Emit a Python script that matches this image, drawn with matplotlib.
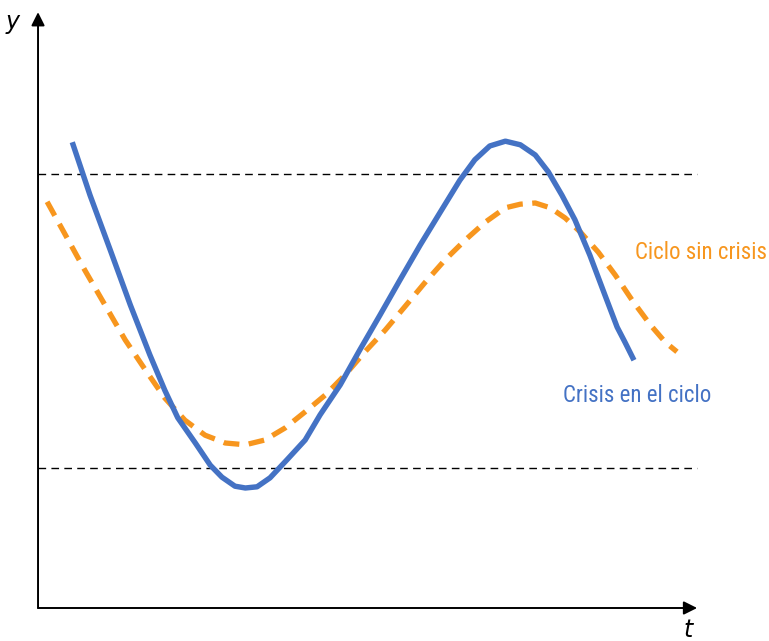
import matplotlib
matplotlib.use("Agg")
import matplotlib.pyplot as plt

# blue curve: crisis within the cycle
t_crisis = [5.4, 8.0, 11.1, 14.2, 17.2, 19.5, 21.5, 24.2, 26.5, 28.3, 30.3, 31.9,
            33.7, 35.7, 38.3, 41.1, 43.4, 46.5, 49.5, 52.6, 55.7, 58.8, 61.9, 64.9,
            67.2, 69.5, 71.9, 74.2, 76.5, 78.5, 80.6, 82.6, 84.9, 87.2, 89.1, 90.3, 91.5]
y_crisis = [77.2, 68.8, 59.7, 50.5, 42.2, 36.3, 31.7, 27.5, 23.8, 21.8, 20.3, 20.0,
            20.2, 21.7, 24.7, 28.0, 32.2, 37.2, 43.0, 48.8, 54.7, 60.5, 66.0, 71.3,
            74.7, 77.0, 77.8, 77.2, 75.5, 72.7, 68.8, 64.7, 58.8, 52.2, 46.8, 44.3, 41.7]

# orange curve: cycle without crisis
t_ciclo = [1.4, 4.2, 7.2, 10.3, 13.4, 16.5, 19.5, 22.6, 25.7, 28.8, 31.9, 34.9,
           38.0, 41.1, 44.2, 47.2, 50.3, 53.4, 56.5, 59.5, 62.6, 65.7, 68.8, 71.9,
           74.2, 76.5, 78.8, 81.1, 83.4, 86.2, 88.8, 91.4, 94.2, 96.5, 98.3]
y_ciclo = [67.7, 62.2, 56.3, 50.5, 44.7, 39.7, 35.0, 31.3, 28.8, 27.5, 27.2, 28.0,
           30.0, 32.7, 35.5, 38.8, 42.7, 46.3, 50.3, 54.2, 58.0, 61.3, 64.3, 66.7,
           67.3, 67.5, 66.7, 65.0, 62.7, 59.3, 55.5, 51.3, 47.2, 44.3, 42.7]

upper = 72.3
lower = 23.3

blue = "#4472C4"
orange = "#F7961E"
lab_font = ["Roboto Condensed", "DejaVu Sans"]

fig = plt.figure(figsize=(7.69, 6.41), dpi=100)
ax = fig.add_axes([0, 0, 1, 1])
ax.set_xlim(-5.85, 112.46)
ax.set_ylim(-5.5, 101.33)
ax.axis("off")

# axes with arrows
ax.annotate("", xy=(101.4, 0), xytext=(0, 0),
            arrowprops=dict(arrowstyle="-|>", lw=1.4, color="black", mutation_scale=20,
                            shrinkA=0, shrinkB=0))
ax.annotate("", xy=(0, 99.3), xytext=(0, 0),
            arrowprops=dict(arrowstyle="-|>", lw=1.4, color="black", mutation_scale=20,
                            shrinkA=0, shrinkB=0))

ax.plot([0, 101.4], [upper, upper], color="black", lw=1.0, dashes=(5.5, 3.8))
ax.plot([0, 101.4], [lower, lower], color="black", lw=1.0, dashes=(5.5, 3.8))

ax.plot(t_ciclo, y_ciclo, color=orange, lw=3.8, dashes=(3.0, 1.8), solid_capstyle="butt")
ax.plot(t_crisis, y_crisis, color=blue, lw=3.9)

ax.text(91.85, 58.17, "Ciclo sin crisis", color=orange, fontsize=16.5, family=lab_font,
        va="baseline", ha="left")
ax.text(80.77, 34.33, "Crisis en el ciclo", color=blue, fontsize=16.5, family=lab_font,
        va="baseline", ha="left")
ax.text(-3.85, 97.7, "y", fontsize=17, style="italic", ha="center", va="center")
ax.text(100, -3.7, "t", fontsize=17, style="italic", ha="center", va="center")

fig.savefig("out.png", dpi=100)
